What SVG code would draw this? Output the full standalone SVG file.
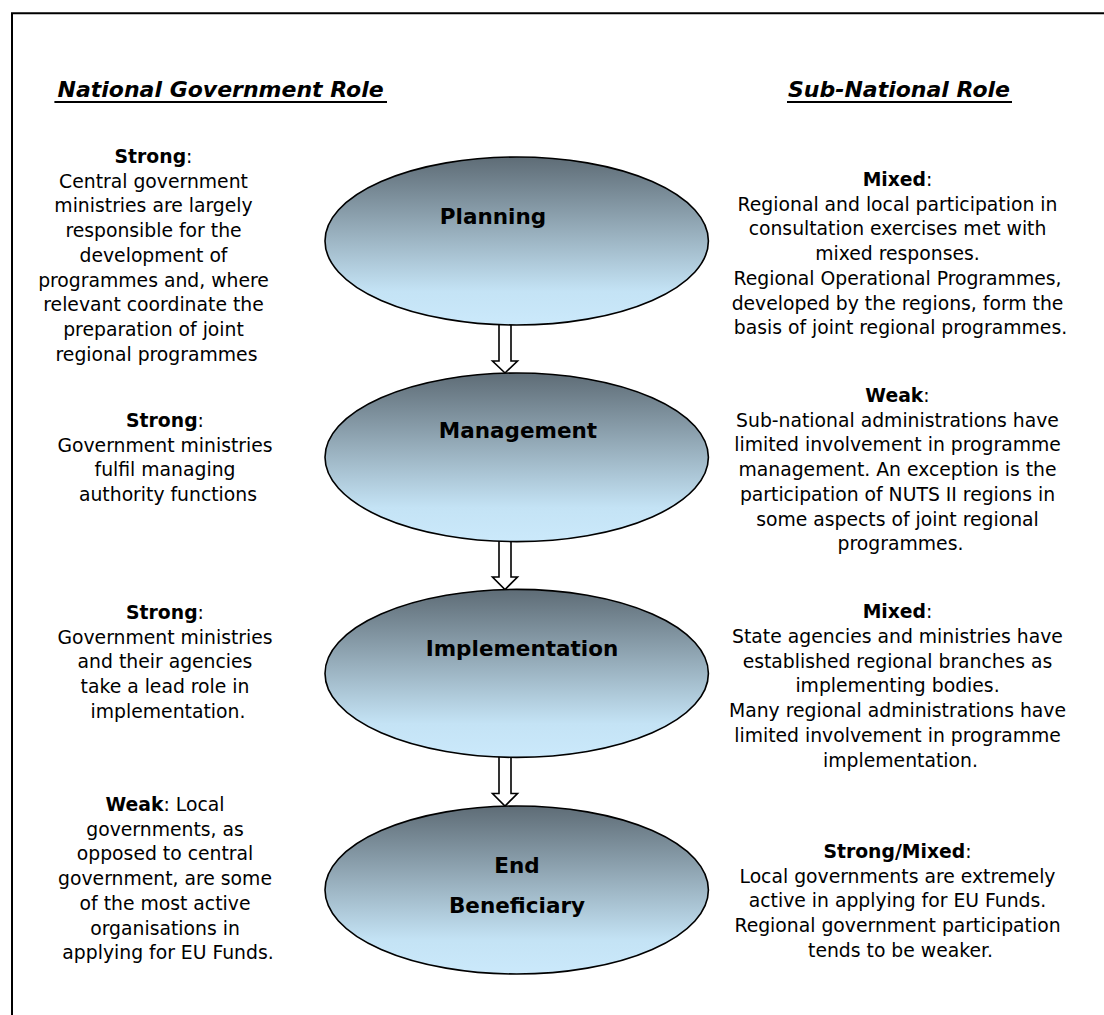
<svg xmlns="http://www.w3.org/2000/svg" width="1104" height="1015" viewBox="0 0 1104 1015">
<defs>
<linearGradient id="g" x1="0" y1="0" x2="0" y2="1">
<stop offset="0" stop-color="#5e6c76"/>
<stop offset="0.45" stop-color="#98afbd"/>
<stop offset="0.8" stop-color="#c4e3f5"/>
<stop offset="1" stop-color="#cbe9fb"/>
</linearGradient>
<style>
.t{font-family:"DejaVu Sans","Liberation Sans",sans-serif;fill:#000;text-anchor:middle}
.body{font-size:18.8px}
.b{font-weight:bold}
.title{font-size:22px;font-weight:bold;font-style:italic}
.label{font-size:21.5px;font-weight:bold}
.node ellipse{fill:url(#g);stroke:#000;stroke-width:1.6}
.arrow{fill:#fff;stroke:#000;stroke-width:1.6;stroke-linejoin:miter}
.rule{stroke:#000;stroke-width:1.8;fill:none}
</style>
</defs>
<rect x="0" y="0" width="1104" height="1015" fill="#fff"/>
<path d="M12,1015 V13.3 H1104" fill="none" stroke="#000" stroke-width="2"/>

<g id="headings">
<text class="t title" x="220.6" y="97">National Government Role</text>
<line class="rule" x1="54.4" y1="102" x2="387" y2="102"/>
<text class="t title" x="899" y="97">Sub-National Role</text>
<line class="rule" x1="787" y1="102" x2="1012" y2="102"/>
</g>

<g id="connectors">
<path class="arrow" d="M499,322 V361 H492.5 L505,373 L517.5,361 H511 V322 Z"/>
<path class="arrow" d="M499,538.5 V577 H492.5 L505,589.5 L517.5,577 H511 V538.5 Z"/>
<path class="arrow" d="M499,754 V793.5 H492.5 L505,806 L517.5,793.5 H511 V754 Z"/>
</g>

<g id="planning" class="node">
<ellipse cx="516.7" cy="241" rx="191.7" ry="84"/>
<text class="t label" x="493" y="224">Planning</text>
</g>
<g id="management" class="node">
<ellipse cx="516.7" cy="457.3" rx="191.7" ry="84.3"/>
<text class="t label" x="518" y="438.3">Management</text>
</g>
<g id="implementation" class="node">
<ellipse cx="516.7" cy="673.4" rx="191.7" ry="84"/>
<text class="t label" x="522" y="656">Implementation</text>
</g>
<g id="end-beneficiary" class="node">
<ellipse cx="516.7" cy="890" rx="191.7" ry="84"/>
<text class="t label" x="517" y="872.5">End</text>
<text class="t label" x="517" y="913">Beneficiary</text>
</g>

<g id="national-planning">
<text class="t body">
<tspan x="156.5" y="163"><tspan class="b">Strong</tspan>:</tspan>
<tspan x="156.5" y="187.7">Central government</tspan>
<tspan x="156.5" y="212.4">ministries are largely</tspan>
<tspan x="156.5" y="237.1">responsible for the</tspan>
<tspan x="156.5" y="261.8">development of</tspan>
<tspan x="156.5" y="286.5">programmes and, where</tspan>
<tspan x="156.5" y="311.2">relevant coordinate the</tspan>
<tspan x="156.5" y="335.9">preparation of joint</tspan>
<tspan x="156.5" y="360.6">regional programmes</tspan>
</text>
</g>
<g id="national-management">
<text class="t body">
<tspan x="168" y="427"><tspan class="b">Strong</tspan>:</tspan>
<tspan x="168" y="451.7">Government ministries</tspan>
<tspan x="168" y="476.4">fulfil managing</tspan>
<tspan x="168" y="501.1">authority functions</tspan>
</text>
</g>
<g id="national-implementation">
<text class="t body">
<tspan x="168" y="619"><tspan class="b">Strong</tspan>:</tspan>
<tspan x="168" y="643.7">Government ministries</tspan>
<tspan x="168" y="668.4">and their agencies</tspan>
<tspan x="168" y="693.1">take a lead role in</tspan>
<tspan x="168" y="717.8">implementation.</tspan>
</text>
</g>
<g id="national-beneficiary">
<text class="t body">
<tspan x="168" y="811"><tspan class="b">Weak</tspan>: Local</tspan>
<tspan x="168" y="835.7">governments, as</tspan>
<tspan x="168" y="860.4">opposed to central</tspan>
<tspan x="168" y="885.1">government, are some</tspan>
<tspan x="168" y="909.8">of the most active</tspan>
<tspan x="168" y="934.5">organisations in</tspan>
<tspan x="168" y="959.2">applying for EU Funds.</tspan>
</text>
</g>

<g id="sub-planning">
<text class="t body">
<tspan x="900.5" y="186"><tspan class="b">Mixed</tspan>:</tspan>
<tspan x="900.5" y="210.7">Regional and local participation in</tspan>
<tspan x="900.5" y="235.4">consultation exercises met with</tspan>
<tspan x="900.5" y="260.1">mixed responses.</tspan>
<tspan x="900.5" y="284.8">Regional Operational Programmes,</tspan>
<tspan x="900.5" y="309.5">developed by the regions, form the</tspan>
<tspan x="900.5" y="334.2">basis of joint regional programmes.</tspan>
</text>
</g>
<g id="sub-management">
<text class="t body">
<tspan x="900.5" y="402"><tspan class="b">Weak</tspan>:</tspan>
<tspan x="900.5" y="426.7">Sub-national administrations have</tspan>
<tspan x="900.5" y="451.4">limited involvement in programme</tspan>
<tspan x="900.5" y="476.1">management. An exception is the</tspan>
<tspan x="900.5" y="500.8">participation of NUTS II regions in</tspan>
<tspan x="900.5" y="525.5">some aspects of joint regional</tspan>
<tspan x="900.5" y="550.2">programmes.</tspan>
</text>
</g>
<g id="sub-implementation">
<text class="t body">
<tspan x="900.5" y="618"><tspan class="b">Mixed</tspan>:</tspan>
<tspan x="900.5" y="642.8">State agencies and ministries have</tspan>
<tspan x="900.5" y="667.6">established regional branches as</tspan>
<tspan x="900.5" y="692.4">implementing bodies.</tspan>
<tspan x="900.5" y="717.2">Many regional administrations have</tspan>
<tspan x="900.5" y="742">limited involvement in programme</tspan>
<tspan x="900.5" y="766.8">implementation.</tspan>
</text>
</g>
<g id="sub-beneficiary">
<text class="t body">
<tspan x="900.5" y="858"><tspan class="b">Strong/Mixed</tspan>:</tspan>
<tspan x="900.5" y="882.7">Local governments are extremely</tspan>
<tspan x="900.5" y="907.4">active in applying for EU Funds.</tspan>
<tspan x="900.5" y="932.1">Regional government participation</tspan>
<tspan x="900.5" y="956.8">tends to be weaker.</tspan>
</text>
</g>
</svg>
